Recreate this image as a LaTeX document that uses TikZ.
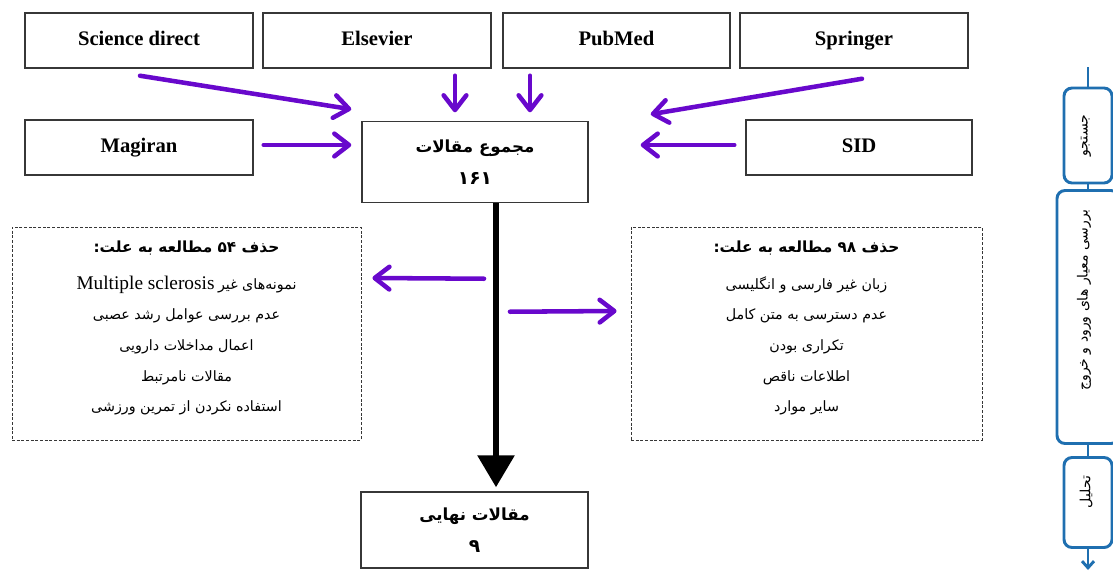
\documentclass[tikz,border=0pt]{standalone}
\usepackage{fontspec}
\setmainfont{Liberation Serif}
\newfontfamily\fa[Script=Arabic]{DejaVu Sans}
\TeXXeTstate=1
\usetikzlibrary{arrows.meta,calc}
\definecolor{purp}{RGB}{104,8,204}
\definecolor{flowblue}{RGB}{31,111,176}
\definecolor{boxline}{RGB}{55,55,55}
\newcommand\FA[1]{{\fa\beginR #1\endR}}
\begin{document}
\begin{tikzpicture}[x=0.75pt,y=-0.75pt,
  srcbox/.style={draw=boxline,line width=1.1pt,minimum width={228*0.75pt},minimum height={55*0.75pt},inner sep=0pt,text height=11pt,text depth=3pt,font=\fontsize{15.5}{18}\selectfont\bfseries},
  midbox/.style={draw=boxline,line width=1.1pt,minimum width={226*0.75pt},inner sep=0pt,align=center,font=\fontsize{12.5}{24}\selectfont\bfseries},
  dashbox/.style={draw=boxline,line width=0.6pt,dash pattern=on 2.2pt off 1.3pt,minimum height={213*0.75pt},inner sep=0pt},
  listtxt/.style={align=center,inner sep=0pt,font=\fontsize{10.7}{23}\selectfont},
  parr/.style={draw=purp,line width=3.4pt,line cap=round,-{Straight Barb[length=11pt,width=17pt,round]}},
  barr/.style={draw=black,line width=4.6pt,-{Triangle[length=24pt,width=27pt]}},
  stepnode/.style={draw=flowblue,line width=2.2pt,rounded corners=6pt,fill=white,inner sep=0pt},
  steptxt/.style={rotate=90,inner sep=0pt,font=\fontsize{10.5}{12}\selectfont},
  flowline/.style={draw=flowblue,line width=2.2pt}]
\useasboundingbox (0,0) rectangle (1113,571);
% source boxes
\node[srcbox] (sd) at (139,40.5) {Science direct};
\node[srcbox] (el) at (377,40.5) {Elsevier};
\node[srcbox,minimum width={227*0.75pt}] (pm) at (616.5,40.5) {PubMed};
\node[srcbox] (sp) at (854,40.5) {Springer};
\node[srcbox] (mg) at (139,147.5) {Magiran};
\node[srcbox,minimum width={226*0.75pt}] (sid) at (859,147.5) {SID};
% total
\node[midbox,minimum height={81*0.75pt}] (tot) at (475,162) {\FA{مجموع مقالات}\\{\fontsize{14}{16}\selectfont\FA{۱۶۱}}};
% final
\node[midbox,minimum height={76*0.75pt},minimum width={227*0.75pt}] (fin) at (474.5,530) {\FA{مقالات نهایی}\\{\fontsize{14}{16}\selectfont\FA{۹}}};
% dashed boxes
\node[dashbox,minimum width={349*0.75pt}] (lbox) at (186.5,333.5) {};
\node[dashbox,minimum width={351*0.75pt}] (rbox) at (806.5,333.5) {};
\node[listtxt,anchor=north] (ltxt) at ([shift={(0,14)}]lbox.north) {%
{\fontsize{11.5}{14}\selectfont\bfseries\FA{حذف ۵۴ مطالعه به علت:}}\\[4.5pt]
\beginR{\fa نمونه‌های غیر} \beginL{\fontsize{14.5}{16}\selectfont Multiple sclerosis}\endL\endR\\
\FA{عدم بررسی عوامل رشد عصبی}\\
\FA{اعمال مداخلات دارویی}\\
\FA{مقالات نامرتبط}\\
\FA{استفاده نکردن از تمرین ورزشی}};
\node[listtxt,anchor=north] (rtxt) at ([shift={(0,14)}]rbox.north) {%
{\fontsize{11.5}{14}\selectfont\bfseries\FA{حذف ۹۸ مطالعه به علت:}}\\[4.5pt]
\FA{زبان غیر فارسی و انگلیسی}\\
\FA{عدم دسترسی به متن کامل}\\
\FA{تکراری بودن}\\
\FA{اطلاعات ناقص}\\
\FA{سایر موارد}};
% purple arrows
\draw[parr] ([shift={(1,7)}]sd.south) -- ([shift={(-10,-11.5)}]tot.north west);
\draw[parr] ([shift={(78,7)}]el.south) -- ([shift={(-20,-8.5)}]tot.north);
\draw[parr] ([shift={(-86.5,7)}]pm.south) -- ([shift={(55,-8.5)}]tot.north);
\draw[parr] ([shift={(8,10)}]sp.south) -- ([shift={(62,-6.5)}]tot.north east);
\draw[parr] ([shift={(10,-2.5)}]mg.east) -- ([shift={(-10,-17)}]tot.west);
\draw[parr] ([shift={(-11,-2.5)}]sid.west) -- ([shift={(52,-17)}]tot.east);
\draw[parr] ([shift={(9,75.5)}]tot.south) -- ([shift={(11,-55.5)}]lbox.east);
\draw[parr] ([shift={(35,108.5)}]tot.south) -- ([shift={(-14,-22.5)}]rbox.west);
% black arrow
\draw[barr] ([shift={(21,0)}]tot.south) -- ([shift={(21.5,-4)}]fin.north);
% right-hand flow
\coordinate (ftop) at (1088,67);
\coordinate (fbot) at (1088,570);
\node[stepnode,minimum width={48*0.75pt},minimum height={95*0.75pt}] (s1) at (1088,135.5) {};
\node[stepnode,minimum width={62*0.75pt},minimum height={253*0.75pt}] (s2) at (1088,317) {};
\node[stepnode,minimum width={48*0.75pt},minimum height={90*0.75pt}] (s3) at (1088,502.5) {};
\node[steptxt] (t1) at (1086,135.5) {\FA{جستجو}};
\node[steptxt] (t2) at (1084,300) {\FA{بررسی معیار های ورود و خروج}};
\node[steptxt] (t3) at (1086,492) {\FA{تحلیل}};
\draw[flowline] (ftop) -- (s1.north);
\draw[flowline] (s1.south) -- (s2.north);
\draw[flowline] (s2.south) -- (s3.north);
\draw[flowline,-{Straight Barb[length=5pt,width=9pt]}] (s3.south) -- (fbot);
\end{tikzpicture}
\end{document}
